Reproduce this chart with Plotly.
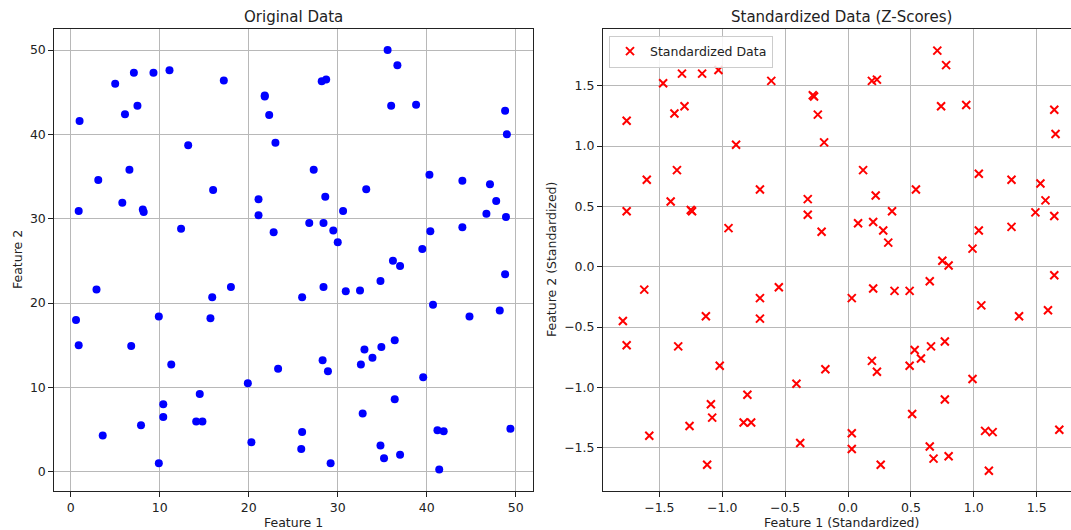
import plotly.graph_objects as go

# ---------------- data ----------------
orig_x = [7.1, 9.3, 11.1, 5.0, 17.2, 21.8, 21.8, 22.3, 7.5, 6.1, 1.0, 13.2, 23.0, 6.6, 3.1, 16.0, 5.8, 8.1, 8.2, 0.9,
          21.1, 21.1, 12.4, 22.8,
          35.6, 36.7, 28.2, 28.7, 36.0, 38.8, 48.8, 49.0, 27.3, 40.3, 44.0, 47.1, 47.8, 46.7, 48.9, 28.6, 33.2,
          30.6, 26.8, 28.4, 29.5, 30.0, 40.4, 44.0, 39.5,
          2.9, 15.9, 18.0, 0.6, 9.9, 15.7, 0.9, 6.8, 11.3, 23.3, 19.9, 14.5, 10.4, 10.4, 14.1, 14.8, 7.9, 3.6,
          20.3, 9.9,
          36.2, 37.0, 48.8, 28.4, 26.0, 30.9, 32.5, 34.8, 40.7, 44.8, 48.2, 36.4, 34.9, 33.0, 33.9, 32.6, 28.3,
          28.9, 39.6, 36.4, 32.8, 26.0, 25.9, 29.2, 34.8, 35.2, 37.0, 41.2, 41.9, 41.4, 49.4]
orig_y = [47.3, 47.3, 47.6, 46.0, 46.4, 44.6, 44.5, 42.3, 43.4, 42.4, 41.6, 38.7, 39.0, 35.8, 34.6, 33.4, 31.9, 31.1, 30.8, 30.9,
          32.3, 30.4, 28.8, 28.4,
          50.0, 48.2, 46.3, 46.5, 43.4, 43.5, 42.8, 40.0, 35.8, 35.2, 34.5, 34.1, 32.1, 30.6, 30.2, 32.6, 33.5,
          30.9, 29.5, 29.5, 28.6, 27.2, 28.5, 29.0, 26.4,
          21.6, 20.7, 21.9, 18.0, 18.4, 18.2, 15.0, 14.9, 12.7, 12.2, 10.5, 9.2, 8.0, 6.5, 5.95, 5.95, 5.5, 4.3,
          3.5, 1.0,
          25.0, 24.4, 23.4, 21.9, 20.7, 21.4, 21.5, 22.6, 19.8, 18.4, 19.1, 15.6, 14.8, 14.5, 13.5, 12.7, 13.2,
          11.9, 11.2, 8.6, 6.9, 4.7, 2.7, 1.0, 3.1, 1.6, 2.0, 4.9, 4.8, 0.25, 5.1]

std_x = [-1.32, -1.16, -1.03, -1.47, -0.61, -0.28, -0.27, -0.24, -1.30, -1.38, -1.76, -0.89, -0.19, -1.36, -1.60, -0.70,
         -1.41, -1.25, -1.24, -1.76, -0.32, -0.32, -0.95, -0.21,
         0.71, 0.78, 0.19, 0.23, 0.74, 0.94, 1.64, 1.65, 0.12, 1.04, 1.30, 1.53, 1.57, 1.49, 1.64, 0.22, 0.54,
         0.35, 0.08, 0.20, 0.28, 0.32, 1.04, 1.30, 0.99,
         -1.62, -0.70, -0.55, -1.79, -1.13, -0.70, -1.76, -1.35, -1.02, -0.18, -0.41, -0.80, -1.09, -1.08, -0.83,
         -0.77, -1.26, -1.58, -0.38, -1.12,
         0.75, 0.80, 1.64, 0.20, 0.03, 0.37, 0.49, 0.65, 1.06, 1.36, 1.59, 0.77, 0.66, 0.53, 0.58, 0.49, 0.19,
         0.23, 0.99, 0.77, 0.51, 0.03, 0.03, 0.26, 0.65, 0.68, 0.80, 1.09, 1.15, 1.12, 1.68]
std_y = [1.60, 1.60, 1.63, 1.52, 1.54, 1.42, 1.41, 1.26, 1.33, 1.27, 1.21, 1.01, 1.03, 0.80, 0.72, 0.64,
         0.54, 0.47, 0.46, 0.46, 0.56, 0.43, 0.32, 0.29,
         1.79, 1.67, 1.54, 1.55, 1.33, 1.34, 1.30, 1.10, 0.80, 0.77, 0.72, 0.69, 0.55, 0.45, 0.42, 0.59, 0.64,
         0.46, 0.36, 0.37, 0.30, 0.20, 0.30, 0.33, 0.15,
         -0.19, -0.26, -0.17, -0.45, -0.41, -0.43, -0.65, -0.66, -0.82, -0.85, -0.97, -1.06, -1.14, -1.25, -1.29,
         -1.29, -1.32, -1.40, -1.46, -1.64,
         0.05, 0.01, -0.07, -0.18, -0.26, -0.20, -0.20, -0.12, -0.32, -0.41, -0.36, -0.62, -0.66, -0.69, -0.76,
         -0.82, -0.78, -0.87, -0.93, -1.10, -1.22, -1.38, -1.51, -1.64, -1.49, -1.59, -1.57, -1.36, -1.37,
         -1.69, -1.35]

left_ticks = [0, 10, 20, 30, 40, 50]
left_tick_text = ["0", "10", "20", "30", "40", "50"]
std_ticks = [-1.5, -1.0, -0.5, 0.0, 0.5, 1.0, 1.5]
std_tick_text = ["\u22121.5", "\u22121.0", "\u22120.5", "0.0", "0.5", "1.0", "1.5"]

titles = ["Original Data", "Standardized Data (Z-Scores)"]
xlabels = ["Feature 1", "Feature 1 (Standardized)"]
ylabels = ["Feature 2", "Feature 2 (Standardized)"]
legend_name = "Standardized Data"

# ---------------- figure ----------------
W, H = 1071, 530
FONT = "DejaVu Sans"

def px(v):
    return v / W

def py(v):
    return 1 - v / H

fig = go.Figure()
fig.add_trace(go.Scatter(x=orig_x, y=orig_y, mode="markers", xaxis="x", yaxis="y",
                         marker=dict(symbol="circle", size=8, color="blue", line=dict(width=0)),
                         showlegend=False, name="Original Data"))
fig.add_trace(go.Scatter(x=std_x, y=std_y, mode="markers", xaxis="x2", yaxis="y2",
                         marker=dict(symbol="x-thin", size=8, color="red", line=dict(width=2, color="red")),
                         showlegend=True, name=legend_name))

common = dict(showline=True, linecolor="#222", linewidth=1, ticks="outside", ticklen=5, tickwidth=1,
              tickcolor="#222", showgrid=True, gridcolor="#b8b8b8", gridwidth=1, zeroline=False,
              tickfont=dict(family=FONT, size=12.5, color="#222"))

ydom = [py(491), py(29.3)]
fig.update_layout(
    width=W, height=H, margin=dict(l=0, r=0, t=0, b=0),
    paper_bgcolor="white", plot_bgcolor="white",
    font=dict(family=FONT, size=12.5, color="#222"),
    xaxis=dict(domain=[px(54.3), px(532.7)], range=[-1.84, 51.9], anchor="y", mirror=True,
               tickmode="array", tickvals=left_ticks, ticktext=left_tick_text, **common),
    yaxis=dict(domain=ydom, range=[-2.29, 52.46], anchor="x", mirror=True,
               tickmode="array", tickvals=left_ticks, ticktext=left_tick_text, **common),
    xaxis2=dict(domain=[px(603), 1.0], range=[-1.948, 1.773], anchor="y2", mirror=True,
                tickmode="array", tickvals=std_ticks, ticktext=std_tick_text, **common),
    yaxis2=dict(domain=ydom, range=[-1.858, 1.967], anchor="x2", mirror=False,
                tickmode="array", tickvals=std_ticks, ticktext=std_tick_text, **common),
    legend=dict(x=px(609), y=py(35.5), xanchor="left", yanchor="top",
                bgcolor="rgba(255,255,255,0.85)", bordercolor="#cccccc", borderwidth=1,
                font=dict(family=FONT, size=12.5, color="#222")),
)

ann = []
centers = [(54.3 + 532.7) / 2, (603 + 1080.7) / 2]
for i in range(2):
    ann.append(dict(text=titles[i], x=px(centers[i]), y=py(16.5), xref="paper", yref="paper",
                    xanchor="center", yanchor="middle", showarrow=False,
                    font=dict(family=FONT, size=15, color="#222")))
    ann.append(dict(text=xlabels[i], x=px(centers[i]), y=py(522.5), xref="paper", yref="paper",
                    xanchor="center", yanchor="middle", showarrow=False,
                    font=dict(family=FONT, size=12.5, color="#222")))
ylab_x = [17, 551]
for i in range(2):
    ann.append(dict(text=ylabels[i], x=px(ylab_x[i]), y=py(260), xref="paper", yref="paper",
                    xanchor="center", yanchor="middle", showarrow=False, textangle=-90,
                    font=dict(family=FONT, size=12.5, color="#222")))
fig.update_layout(annotations=ann)

fig.write_html("out.html")
